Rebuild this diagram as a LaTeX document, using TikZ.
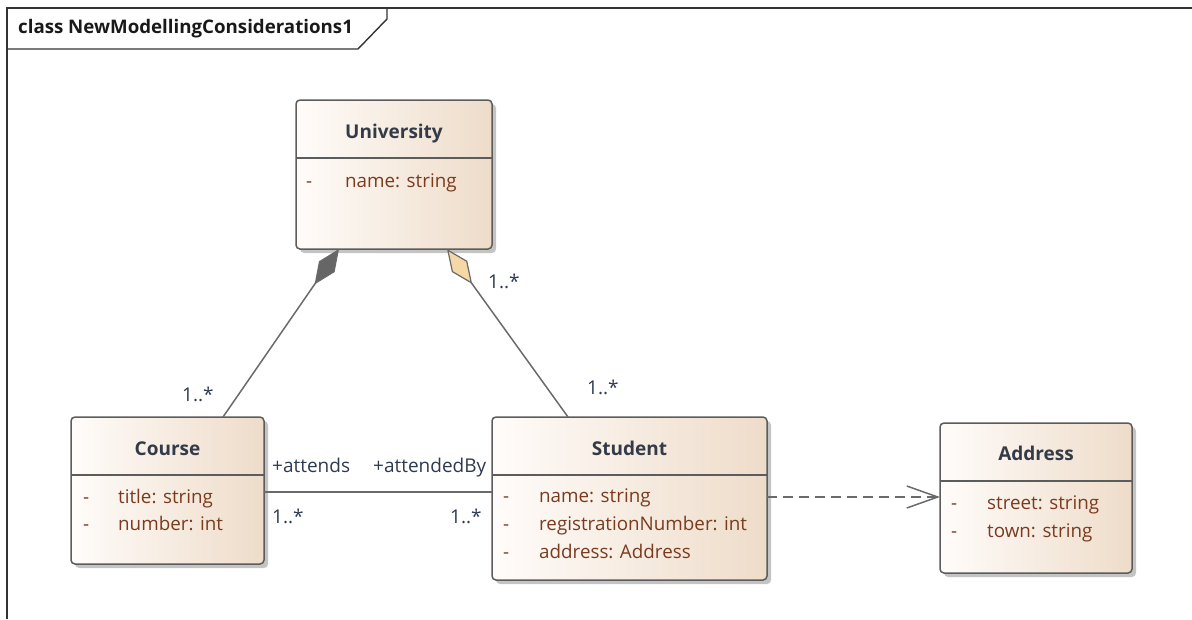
\documentclass[tikz,border=0pt]{standalone}
\usepackage{fontspec}
\setmainfont{Open Sans}
\usetikzlibrary{arrows.meta,calc}
\definecolor{boxline}{HTML}{5C5C5C}
\definecolor{shadowc}{HTML}{C4C4C4}
\definecolor{fillL}{HTML}{FFFCFA}
\definecolor{fillR}{HTML}{EEDCC9}
\definecolor{titlec}{HTML}{333A48}
\definecolor{attrc}{HTML}{7A3B1E}
\definecolor{labelc}{HTML}{2E3A52}
\definecolor{connc}{HTML}{6A6A6A}
\definecolor{compfill}{HTML}{666666}
\definecolor{aggfill}{HTML}{F5D8A6}
\tikzset{
  cbox/.style={draw=boxline, line width=1.5pt, rounded corners=4pt, left color=fillL, right color=fillR, inner sep=0pt, outer sep=0pt, anchor=north west},
  cshadow/.style={fill=shadowc, rounded corners=4pt},
  divider/.style={draw=boxline, line width=1.4pt},
  ctitle/.style={font=\fontsize{19}{22}\selectfont\bfseries, text=titlec, anchor=base, inner sep=0pt},
  attr/.style={font=\fontsize{18.8}{22}\selectfont, text=attrc, anchor=base west, inner sep=0pt},
  lbl/.style={font=\fontsize{19}{22}\selectfont, text=labelc, anchor=base west, inner sep=0pt},
  conn/.style={draw=connc, line width=1.5pt},
}
\begin{document}
\begin{tikzpicture}[x=1pt,y=-1pt]
\useasboundingbox (0,0) rectangle (1192,619);
% frame
\draw[black!80, line width=1.6pt] (1192,8) -- (7,8) -- (7,619);
\draw[black!80, line width=1.4pt] (7,49) -- (358,49) -- (387,19) -- (387,8);
\node[font=\fontsize{18.7}{22}\selectfont\bfseries, anchor=base west, inner sep=0pt, text=black!90] (frametitle) at (18,33) {class NewModellingConsiderations1};

% University
\fill[cshadow] (300,104) rectangle (496,253);
\node[cbox, minimum width=196pt, minimum height=149pt] (univ) at (296,100) {};
\draw[divider] (univ.west |- 0,158) -- (univ.east |- 0,158);
\node[ctitle] (univt) at (394,138) {University};
\node[attr] (univa0) at (306,187) {-};
\node[attr] (univa1) at (345,187) {name: string};

% Course
\fill[cshadow] (75,421) rectangle (268,568);
\node[cbox, minimum width=193pt, minimum height=147pt] (course) at (71,417) {};
\draw[divider] (course.west |- 0,475) -- (course.east |- 0,475);
\node[ctitle] (courset) at (167.5,455) {Course};
\node[attr] (coursea0) at (83,503) {-};
\node[attr] (coursea1) at (118,503) {title: string};
\node[attr] (courseb0) at (83,530) {-};
\node[attr] (courseb1) at (118,530) {number: int};

% Student
\fill[cshadow] (496,421) rectangle (771,584);
\node[cbox, minimum width=275pt, minimum height=163pt] (student) at (492,417) {};
\draw[divider] (student.west |- 0,475) -- (student.east |- 0,475);
\node[ctitle] (studentt) at (629.5,455) {Student};
\node[attr] (studenta0) at (503,502) {-};
\node[attr] (studenta1) at (539,502) {name: string};
\node[attr] (studentb0) at (503,530) {-};
\node[attr] (studentb1) at (539,530) {registrationNumber: int};
\node[attr] (studentc0) at (503,558) {-};
\node[attr] (studentc1) at (539,558) {address: Address};

% Address
\fill[cshadow] (944,427) rectangle (1136,577);
\node[cbox, minimum width=192pt, minimum height=150pt] (address) at (940,423) {};
\draw[divider] (address.west |- 0,481) -- (address.east |- 0,481);
\node[ctitle] (addresst) at (1036,460) {Address};
\node[attr] (addressa0) at (951,509) {-};
\node[attr] (addressa1) at (987,509) {street: string};
\node[attr] (addressb0) at (951,537) {-};
\node[attr] (addressb1) at (987,537) {town: string};

% connectors
\draw[conn, {Diamond[length=43pt,width=19pt,fill=compfill,line width=1.2pt]}-] ([xshift=43pt]univ.south west) -- ([xshift=152pt]course.north west);
\draw[conn, {Diamond[length=43pt,width=19pt,fill=aggfill,line width=1.2pt]}-] ([xshift=151pt]univ.south west) -- ([xshift=76pt]student.north west);
\draw[conn] (course.east |- 0,492) -- (student.west |- 0,492);
\draw[conn, dash pattern=on 10pt off 6pt, -{Straight Barb[length=31pt,width=22pt,line width=1.5pt]}] (student.east |- 0,497) -- (address.west |- 0,497);

% labels
\node[lbl] (m1) at (488,288) {1..*};
\node[lbl] (m2) at (182,401) {1..*};
\node[lbl] (m3) at (587,394) {1..*};
\node[lbl] (r1) at (272,472) {+attends};
\node[lbl, fill=white, inner xsep=3pt, inner ysep=1pt] (r2) at (370,472) {+attendedBy};
\node[lbl] (m4) at (272,523) {1..*};
\node[lbl] (m5) at (450,523) {1..*};
\end{tikzpicture}
\end{document}
